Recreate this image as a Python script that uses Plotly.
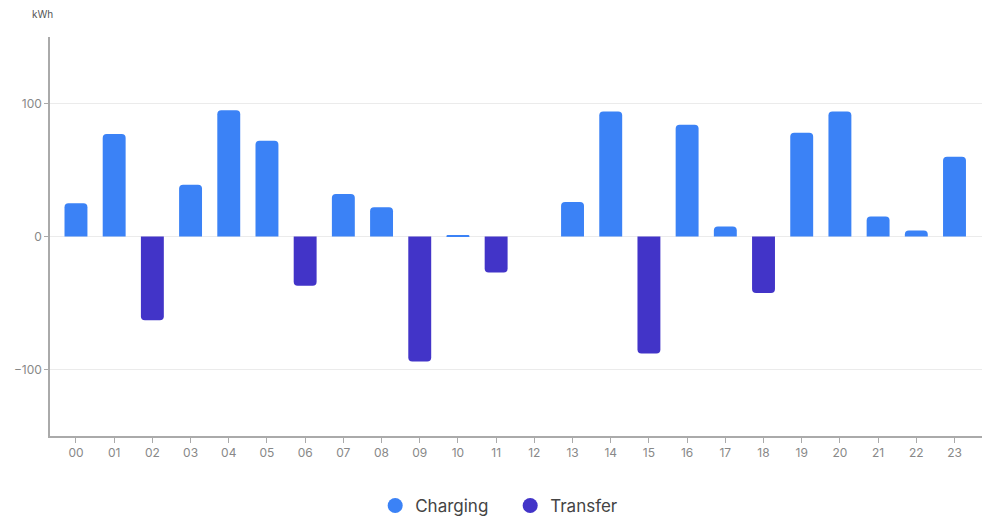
import plotly.graph_objects as go

hours = ["00","01","02","03","04","05","06","07","08","09","10","11",
         "12","13","14","15","16","17","18","19","20","21","22","23"]
charging = [25, 77, None, 39, 95, 72, None, 32, 22, None, 1, None,
            None, 26, 94, None, 84, 7.5, None, 78, 94, 15, 4.5, 60]
transfer = [None, None, -63, None, None, None, -37, None, None, -94, None, -27,
            None, None, None, -88, None, None, -42.5, None, None, None, None, None]
y_ticks = [-100, 0, 100]

C_CHG = "#3b82f6"
C_TRF = "#4234c8"
FONT = "Inter, Lato, sans-serif"

xs = list(range(len(hours)))
fig = go.Figure()
fig.add_bar(x=xs, y=charging, name="Charging", marker=dict(color=C_CHG, cornerradius=4,
            line=dict(width=0)), width=0.6, showlegend=False)
fig.add_bar(x=xs, y=transfer, name="Transfer", marker=dict(color=C_TRF, cornerradius=4,
            line=dict(width=0)), width=0.6, showlegend=False)
# legend entries with circle symbols
fig.add_scatter(x=[None], y=[None], mode="markers", name="Charging",
                marker=dict(symbol="circle", size=15, color=C_CHG))
fig.add_scatter(x=[None], y=[None], mode="markers", name="Transfer",
                marker=dict(symbol="circle", size=15, color=C_TRF))

fig.update_layout(
    width=983, height=520,
    margin=dict(l=50, r=1, t=37, b=84),
    barmode="overlay",
    hovermode=False,
    paper_bgcolor="white", plot_bgcolor="white",
    font=dict(family=FONT, color="#666", size=12),
    legend=dict(orientation="h", xref="container", x=0.519, xanchor="center",
                yref="container", y=0.027, yanchor="middle",
                font=dict(size=17, color="#444", family=FONT), itemwidth=30,
                traceorder="normal", entrywidthmode="pixels", entrywidth=90),
    annotations=[dict(text="kWh", xref="paper", yref="paper", x=0.005, y=1.058,
                      xanchor="right", yanchor="middle", showarrow=False,
                      font=dict(size=10, color="#555", family=FONT))],
)
fig.update_xaxes(range=[-0.68, 23.72], tickmode="array", tickvals=xs, ticktext=hours,
                 showline=True, linecolor="#aaa", linewidth=1.5, ticks="outside",
                 ticklen=5, tickcolor="#aaa", showgrid=False, zeroline=False,
                 tickfont=dict(size=12, color="#888"), fixedrange=True)
fig.update_yaxes(range=[-150, 150], tickmode="array", tickvals=y_ticks,
                 showline=True, linecolor="#aaa", linewidth=1.5, ticks="outside",
                 ticklen=4, tickcolor="#aaa", showgrid=True, gridcolor="#ebebeb",
                 gridwidth=1, zeroline=True, zerolinecolor="#ebebeb", zerolinewidth=1,
                 tickfont=dict(size=12, color="#888"), fixedrange=True)

fig.write_html("out.html", config={"displayModeBar": False},
               post_script="document.body.style.margin='0';document.body.style.overflow='hidden';")
